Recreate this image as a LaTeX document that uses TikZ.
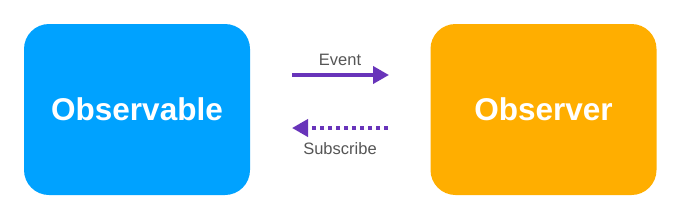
\documentclass[tikz,border=0pt]{standalone}
\usepackage{fontspec}
\setmainfont{Liberation Sans}
\usetikzlibrary{arrows.meta}
\definecolor{obsblue}{RGB}{0,162,255}
\definecolor{obsorange}{RGB}{255,174,0}
\definecolor{arrpurple}{RGB}{104,52,186}
\definecolor{lblgray}{RGB}{85,85,85}
\tikzset{
  bigbox/.style={rounded corners=25pt, minimum width=226pt, minimum height=171pt, inner sep=0pt, text=white, font=\fontsize{31.5}{36}\selectfont\bfseries},
  lbl/.style={text=lblgray, font=\fontsize{16.5}{20}\selectfont, inner sep=0pt},
  conn/.style={draw=arrpurple, line width=3.8pt, -{Triangle[length=16pt,width=17pt]}},
}
\begin{document}
\begin{tikzpicture}[x=1pt,y=-1pt]
\useasboundingbox (0,0) rectangle (680,217);
\node[bigbox, fill=obsblue] (obs) at (137,109.5) {Observable};
\node[bigbox, fill=obsorange] (obr) at (543.5,109.5) {Observer};
\coordinate (e1) at (292,75);
\coordinate (e2) at (389,75);
\coordinate (s1) at (388,128);
\coordinate (s2) at (292,128);
\draw[conn] (e1) -- (e2);
\draw[conn, dash pattern=on 4pt off 4pt] (s1) -- (s2);
\node[lbl] (ev) at (340,60) {Event};
\node[lbl] (sub) at (340,149) {Subscribe};
\end{tikzpicture}
\end{document}
